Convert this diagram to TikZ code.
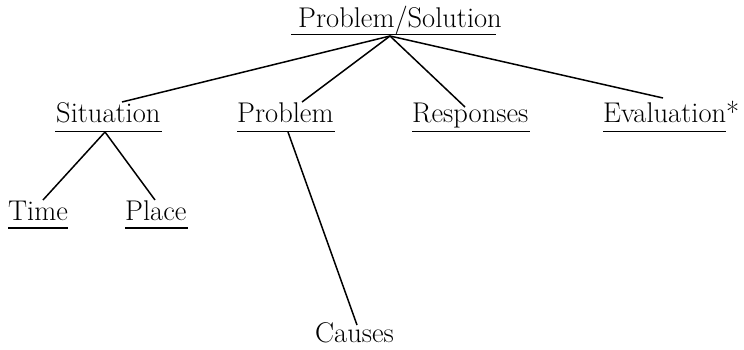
\documentclass[tikz,border=0pt]{standalone}
\begin{document}
\begin{tikzpicture}[x=1pt,y=-1pt,
  lbl/.style={inner sep=0pt,anchor=base west,font=\fontsize{28.5}{32}\selectfont},
  conn/.style={line width=1.5pt,black},
  uline/.style={line width=1.4pt,black}]
\useasboundingbox (0,0) rectangle (744,350);
% nodes
\node[lbl] (root) at (298,28) {Problem/Solution};
\node[lbl] (sit)  at (56,123)  {Situation};
\node[lbl] (prob) at (237,123) {Problem};
\node[lbl] (resp) at (412,123) {Responses};
\node[lbl] (eval) at (603,123) {Evaluation\rlap{*}};
\node[lbl] (time) at (8,220)   {Time};
\node[lbl] (place) at (125,220) {Place};
\node[lbl] (causes) at (315,342) {Causes};
% underlines
\draw[uline] ([shift={(-7,6.5)}]root.base west) -- ([shift={(-6,6.5)}]root.base east);
\draw[uline] ([shift={(-1,8.5)}]sit.base west) -- ([shift={(1,8.5)}]sit.base east);
\draw[uline] ([shift={(0,8.5)}]prob.base west) -- ([shift={(1,8.5)}]prob.base east);
\draw[uline] ([shift={(0,8.5)}]resp.base west) -- ([shift={(1,8.5)}]resp.base east);
\draw[uline] ([shift={(0,8.5)}]eval.base west) -- ([shift={(0,8.5)}]eval.base east);
\draw[uline] ([shift={(0,8)}]time.base west) -- ([shift={(0,8)}]time.base east);
\draw[uline] ([shift={(0,8)}]place.base west) -- ([shift={(1,8)}]place.base east);
% connector end points
\coordinate (rB) at (390,36);
\coordinate (sitT) at (122,102);
\coordinate (probT) at (302,102);
\coordinate (respT) at (465,107);
\coordinate (evalT) at (663,98);
\coordinate (sitB) at (105,132);
\coordinate (timeT) at (43,200);
\coordinate (placeT) at (155,200);
\coordinate (probB) at (288,132);
\coordinate (causesT) at (357,325);
% connectors
\draw[conn] (rB) -- (sitT);
\draw[conn] (rB) -- (probT);
\draw[conn] (rB) -- (respT);
\draw[conn] (rB) -- (evalT);
\draw[conn] (sitB) -- (timeT);
\draw[conn] (sitB) -- (placeT);
\draw[conn] (probB) -- (causesT);
\end{tikzpicture}
\end{document}
